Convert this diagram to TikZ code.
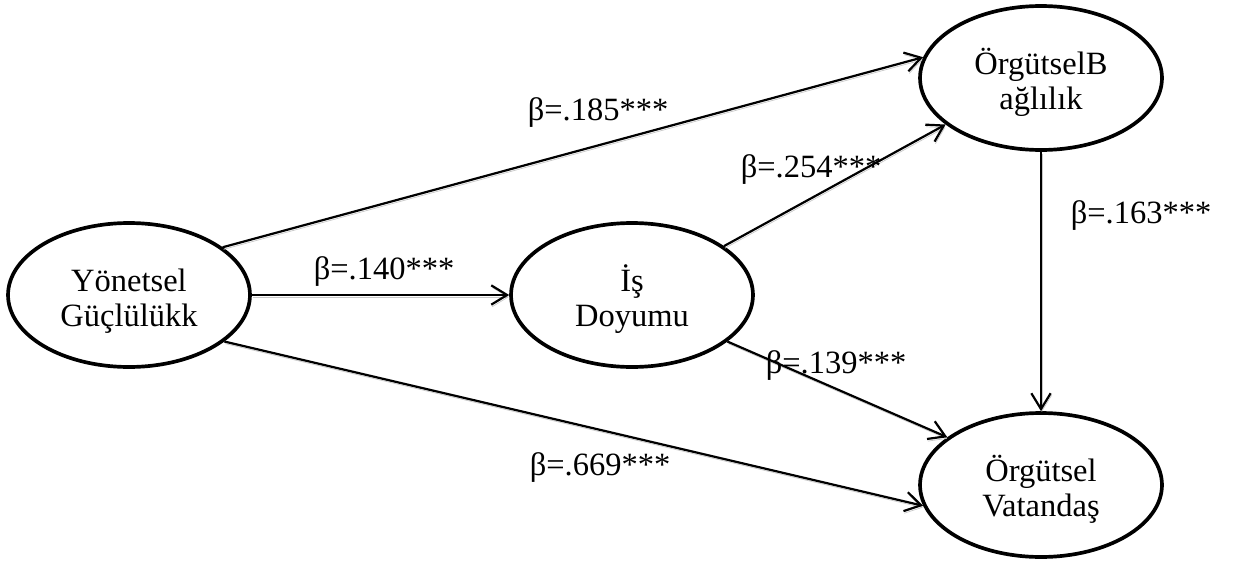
\documentclass[tikz,border=0pt]{standalone}
\usepackage{fontspec}
\setmainfont{Liberation Serif}
\usetikzlibrary{positioning,arrows.meta,shapes.geometric}
\newcommand{\topgap}{\rule{0pt}{20pt}}

\begin{document}
\begin{tikzpicture}[
      x=0.02cm,y=-0.02cm,
      every node/.style={font=\fontsize{18.5}{20}\selectfont},
      var/.style={ellipse,draw=black,line width=2.1pt,minimum width=4.84cm,
        minimum height=2.88cm,inner sep=0pt,align=center},
      path/.style={draw=black,line width=1.25pt,-{Straight Barb[length=9pt,width=11pt]},
        preaction={draw=black!22,transform canvas={shift={(0.5pt,-1.2pt)}}}},
      coef/.style={inner sep=1pt}
    ]
    \useasboundingbox (0,0) rectangle (1234,561);
    % latent variables
    \node[var] (yg) at (129,295) {\topgap Yönetsel\\Güçlülükk};
    \node[var] (id) at (632,295) {\topgap İş\\Doyumu};
    \node[var] (ob) at (1041,78) {\topgap ÖrgütselB\\ağlılık};
    \node[var] (ov) at (1041,485) {\topgap Örgütsel\\Vatandaş};
    % paths
    \draw[path] (yg.27) -- (ob.170);
    \draw[path] (yg.east) -- (id.west);
    \draw[path] (yg.-26) -- (ov.190);
    \draw[path] (id.28) -- (ob.206);
    \draw[path] (id.-26) -- (ov.153);
    \draw[path] (ob.south) -- (ov.north);
    % coefficients
    \node[coef] (b1) at (598,113) {β=.185***};
    \node[coef] (b2) at (384,272) {β=.140***};
    \node[coef] (b3) at (600,468) {β=.669***};
    \node[coef] (b4) at (811,170) {β=.254***};
    \node[coef] (b5) at (836,366) {β=.139***};
    \node[coef] (b6) at (1141,216) {β=.163***};
  \end{tikzpicture}
\end{document}
